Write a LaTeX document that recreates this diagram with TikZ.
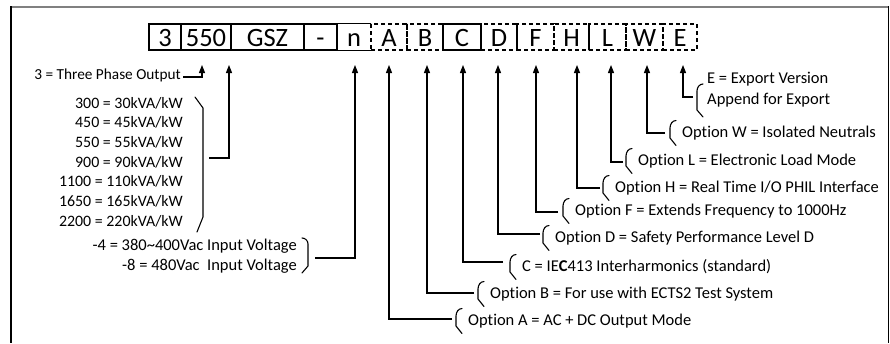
\documentclass[tikz,border=0pt]{standalone}
\usepackage{fontspec}
\setmainfont{Carlito}[Ligatures=NoCommon]
\usetikzlibrary{calc,arrows.meta}
\begin{document}
\begin{tikzpicture}[x=1pt,y=-1pt,
  code/.style={font=\fontsize{26.5}{30}\selectfont, minimum height=26pt, inner sep=0pt, text height=20pt, text depth=2pt, anchor=center},
  solidbox/.style={code, draw, line width=1.1pt},
  dashbox/.style={code, draw, dash pattern=on 4pt off 3pt, line width=1.1pt},
  lbl/.style={font=\fontsize{16.5}{19}\selectfont, inner sep=0pt},
  lbls/.style={font=\fontsize{15.3}{19}\selectfont, inner sep=0pt},
  lbll/.style={font=\fontsize{15.9}{19}\selectfont, inner sep=0pt},
  conn/.style={line width=1.2pt},
  arr/.style={conn, -{Triangle[length=8pt,width=6pt]}},
  brk/.style={line width=1.1pt, line join=round, line cap=round},
]
\useasboundingbox (0,0) rectangle (890,343);
% frame
\draw[line width=2.2pt, color={rgb,255:red,128;green,128;blue,128}] (10.5,7) -- (889,7);
\draw[line width=1.5pt] (11,6) -- (11,343);
\draw[line width=1.5pt] (888.5,6) -- (888.5,343);

% code boxes
\node[solidbox, minimum width=32pt] (b3) at (165,37) {3};
\node[solidbox, minimum width=50pt] (b550) at (206,37) {550};
\node[solidbox, minimum width=73pt] (bGSZ) at (267.5,37) {GSZ};
\node[solidbox, minimum width=33pt] (bdash) at (320.5,37) {-};
\node[code, minimum width=34pt] (bn) at (354,37) {n};
\draw[line width=1.1pt] (bn.north east) -- (bn.north west) -- (bn.south west) -- (bn.south east);
\node[dashbox, minimum width=36pt] (bA) at (389,37) {A};
\node[dashbox, minimum width=36pt] (bB) at (425,37) {B};
\node[dashbox, minimum width=36pt] (bD) at (499,37) {D};
\node[dashbox, minimum width=37pt] (bF) at (535.5,37) {F};
\node[dashbox, minimum width=35pt] (bH) at (571.5,37) {H};
\node[dashbox, minimum width=37pt] (bL) at (607.5,37) {L};
\node[dashbox, minimum width=37pt] (bW) at (644.5,37) {W};
\node[dashbox, minimum width=34pt] (bE) at (680,37) {E};
\node[solidbox, minimum width=38pt] (bC) at (462,37) {C};

% arrow tips
\coordinate (t3) at (202,65);
\coordinate (t550) at (229,65);
\coordinate (tn) at (355,65);
\coordinate (tA) at (389,65);
\coordinate (tB) at (427,65);
\coordinate (tC) at (463,65);
\coordinate (tD) at (498,65);
\coordinate (tF) at (536,65);
\coordinate (tH) at (577,65);
\coordinate (tL) at (611,65);
\coordinate (tW) at (647,65);
\coordinate (tE) at (683,65);

% 3 = three phase
\node[lbls, anchor=east] (l3) at (181,75) {3 = Three Phase Output};
\draw[arr] ($(l3.east)+(2,2)$) -| (t3);

% power list
\node[lbll, anchor=east] (p300) at (183,103) {300 = 30kVA/kW};
\node[lbll, anchor=east] (p450) at (183,122.7) {450 = 45kVA/kW};
\node[lbll, anchor=east] (p550) at (183,142.4) {550 = 55kVA/kW};
\node[lbll, anchor=east] (p900) at (183,162) {900 = 90kVA/kW};
\node[lbll, anchor=east] (p1100) at (183,181.7) {1100 = 110kVA/kW};
\node[lbll, anchor=east] (p1650) at (183,201.4) {1650 = 165kVA/kW};
\node[lbll, anchor=east] (p2200) at (183,221) {2200 = 220kVA/kW};
\draw[brk] (195,97) -- (203,108) -- (203,217) -- (197,232);
\coordinate (pb) at (209,158);
\draw[arr] (pb) -| (t550);

% voltage
\node[lbl, anchor=east] (v4) at (297,246) {-4 = 380\textasciitilde400Vac Input Voltage};
\node[lbl, anchor=east] (v8) at (297,266) {-8 = 480Vac\ \ Input Voltage};
\draw[brk] (302,238) to[out=0,in=90] (308,244) -- (308,266) -- (302,273);
\coordinate (vb) at (315,258);
\draw[arr] (vb) -| (tn);

% options
\node[lbl, anchor=west] (oA) at (468,321) {Option A = AC + DC Output Mode};
\node[lbl, anchor=west] (oB) at (490,294) {Option B = For use with ECTS2 Test System};
\node[lbl, anchor=west] (oC) at (522,267) {C = IE\textbf{C}413 Interharmonics (standard)};
\node[lbl, anchor=west] (oD) at (555,238) {Option D = Safety Performance Level D};
\node[lbl, anchor=west] (oF) at (575,211) {Option F = Extends Frequency to 1000Hz};
\node[lbl, anchor=west] (oH) at (615,188) {Option H = Real Time I/O PHIL Interface};
\node[lbl, anchor=west] (oL) at (638,161) {Option L = Electronic Load Mode};
\node[lbl, anchor=west] (oW) at (682,133) {Option W = Isolated Neutrals};

\foreach \o in {oA,oB,oC,oD,oF,oH,oL,oW}{
  \draw[brk] ($(\o.west)+(-6,-12.5)$) to[out=180,in=90] ($(\o.west)+(-12,-5)$) -- ($(\o.west)+(-12,5)$) -- ($(\o.west)+(-6,12.5)$);
}
\draw[arr] ($(oA.west)+(-16,-2)$) -| (tA);
\draw[arr] ($(oB.west)+(-16,-1)$) -| (tB);
\draw[arr] ($(oC.west)+(-19,-5)$) -| (tC);
\draw[arr] ($(oD.west)+(-15,-4)$) -| (tD);
\draw[arr] ($(oF.west)+(-17,1)$) -| (tF);
\draw[arr] ($(oH.west)+(-15,0)$) -| (tH);
\draw[arr] ($(oL.west)+(-15,1)$) -| (tL);
\draw[arr] ($(oW.west)+(-17,0)$) -| (tW);

% export
\node[lbl, anchor=west] (oE1) at (707,79) {E = Export Version};
\node[lbl, anchor=west] (oE2) at (707,100) {Append for Export};
\draw[brk] (703,84) to[out=180,in=90] (697,91) -- (697,110) -- (703,117);
\coordinate (eb) at (693,97);
\draw[arr] (eb) -| (tE);
\end{tikzpicture}
\end{document}
